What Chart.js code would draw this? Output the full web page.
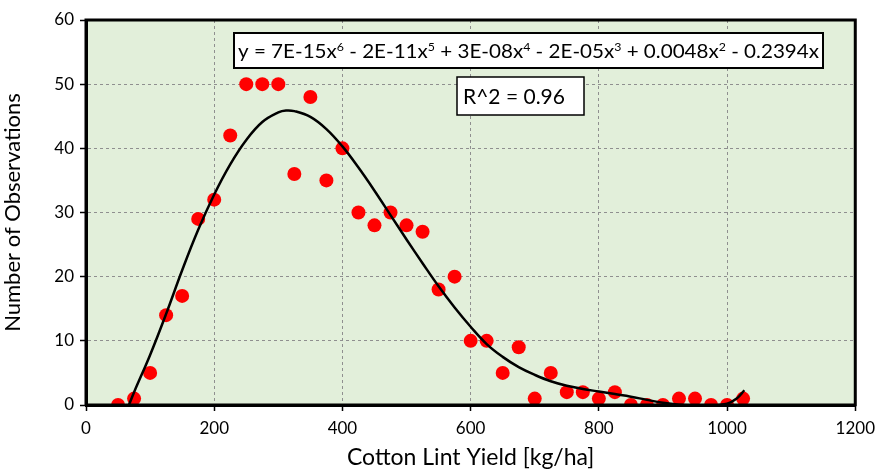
<!DOCTYPE html>
<html>
<head>
<meta charset="utf-8">
<script src="https://cdn.jsdelivr.net/npm/chart.js@4.4.1/dist/chart.umd.min.js"></script>
<style>
html,body{margin:0;padding:0;background:#fff;}
#wrap{width:882px;height:471px;position:relative;}
</style>
</head>
<body>
<div id="wrap"><canvas id="c" width="882" height="471"></canvas></div>
<script>
// Observed data
const yieldX = [50,75,100,125,150,175,200,225,250,275,300,325,350,375,400,425,450,475,500,525,550,575,600,625,650,675,700,725,750,775,800,825,850,875,900,925,950,975,1000,1025];
const observations = [0,1,5,14,17,29,32,42,50,50,50,36,48,35,40,30,28,30,28,27,18,20,10,10,5,9,1,5,2,2,1,2,0,0,0,1,1,0,0,1];

// Fitted trend line
const fitX = [67,75,100,125,150,175,200,225,250,275,300,312,325,350,375,400,425,450,475,500,525,550,575,600,625,650,675,700,725,750,775,800,825,850,875,900,925,950,975,1000,1015,1027];
const fitY = [0,2.0,7.8,14.2,21.0,27.3,32.8,37.5,41.3,44.1,45.6,45.9,45.8,44.9,43.0,40.3,37.0,33.4,29.6,25.8,22.1,18.5,15.2,12.2,9.5,7.5,5.9,4.7,3.7,3.0,2.5,2.1,1.7,1.3,0.8,0.35,0.05,-0.1,-0.1,0.2,1.0,2.3];

// Axis ticks
const xTicks = [0,200,400,600,800,1000,1200];
const yTicks = [0,10,20,30,40,50,60];

const eqParts = [["y = 7E-15x",false],["6",true],[" - 2E-11x",false],["5",true],[" + 3E-08x",false],["4",true],[" - 2E-05x",false],["3",true],[" + 0.0048x",false],["2",true],[" - 0.2394x",false]];
const r2Text = "R^2 = 0.96";

const FONT = "Lato, 'Open Sans', sans-serif";

const bgPlugin = {
  id: 'bg',
  beforeDraw(chart) {
    const a = chart.chartArea, ctx = chart.ctx;
    ctx.save();
    ctx.fillStyle = '#e2efda';
    ctx.fillRect(a.left, a.top, a.right - a.left, a.bottom - a.top);
    ctx.restore();
  },
  afterDraw(chart) {
    const a = chart.chartArea, ctx = chart.ctx;
    ctx.save();
    ctx.setLineDash([]);
    ctx.strokeStyle = '#000';
    ctx.lineWidth = 3;
    ctx.beginPath();
    ctx.moveTo(a.left, a.bottom); ctx.lineTo(a.left, a.top); ctx.lineTo(a.right, a.top); ctx.lineTo(a.right, a.bottom); ctx.lineTo(a.left, a.bottom);
    ctx.stroke();

    // Equation box
    const bx = 234, by = 33, bw = 589, bh = 35;
    ctx.fillStyle = '#fff';
    ctx.fillRect(bx, by, bw, bh);
    ctx.lineWidth = 2;
    ctx.strokeRect(bx, by, bw, bh);
    const fs = 20, ss = 12;
    let total = 0;
    eqParts.forEach(p => { ctx.font = (p[1] ? ss : fs) + 'px ' + FONT; total += ctx.measureText(p[0]).width; });
    const sc = (bw - 8) / total;
    ctx.save();
    ctx.translate(bx + 4, 0);
    ctx.scale(sc, 1);
    let cx = 0;
    ctx.fillStyle = '#000';
    ctx.textBaseline = 'alphabetic';
    eqParts.forEach(p => {
      ctx.font = (p[1] ? ss : fs) + 'px ' + FONT;
      ctx.fillText(p[0], cx, p[1] ? by + 18 : by + 25);
      cx += ctx.measureText(p[0]).width;
    });
    ctx.restore();

    // R^2 box
    const rx = 457, ry = 77, rw = 127, rh = 38;
    ctx.fillStyle = '#fff';
    ctx.fillRect(rx, ry, rw, rh);
    ctx.strokeStyle = '#000';
    ctx.lineWidth = 1.5;
    ctx.strokeRect(rx, ry, rw, rh);
    ctx.fillStyle = '#000';
    ctx.font = '21px ' + FONT;
    ctx.textBaseline = 'middle';
    ctx.fillText(r2Text, rx + 6, ry + rh / 2 + 1);
    ctx.restore();
  }
};

new Chart(document.getElementById('c'), {
  type: 'scatter',
  data: {
    datasets: [
      {
        type: 'line',
        label: 'Fit',
        data: fitX.map((v, i) => ({x: v, y: fitY[i]})),
        borderColor: '#000',
        borderWidth: 2.5,
        pointRadius: 0,
        fill: false,
        tension: 0.4,
        order: 0
      },
      {
        label: 'Observations',
        data: yieldX.map((v, i) => ({x: v, y: observations[i]})),
        backgroundColor: '#ff0000',
        borderWidth: 0,
        pointRadius: 7,
        order: 1
      }
    ]
  },
  options: {
    responsive: false,
    animation: false,
    devicePixelRatio: 1,
    layout: {padding: {top: 20, right: 24, left: 0, bottom: 0}},
    plugins: {legend: {display: false}, tooltip: {enabled: false}},
    scales: {
      x: {
        type: 'linear', min: 0, max: 1200,
        afterBuildTicks(s) { s.ticks = xTicks.map(v => ({value: v})); },
        afterFit(s) { s.height = 66; },
        ticks: {color: '#000', font: {size: 17, family: FONT}, padding: 7, maxRotation: 0, callback: v => String(v)},
        grid: {color: '#8f8f8f', lineWidth: 1, tickColor: '#000', tickLength: 6, tickBorderDash: [], tickWidth: 1.5},
        border: {color: '#000', width: 3, dash: [3, 3]},
        title: {display: true, text: 'Cotton Lint Yield [kg/ha]', color: '#000', font: {size: 23, family: FONT}, padding: {top: 0, bottom: 0}}
      },
      y: {
        type: 'linear', min: 0, max: 60,
        afterBuildTicks(s) { s.ticks = yTicks.map(v => ({value: v})); },
        afterFit(s) { s.width = 86; },
        ticks: {color: '#000', font: {size: 17, family: FONT}, padding: 6, callback: v => String(v)},
        grid: {color: '#8f8f8f', lineWidth: 1, tickColor: '#000', tickLength: 6, tickBorderDash: [], tickWidth: 1.5},
        border: {color: '#000', width: 3, dash: [3, 3]},
        title: {display: true, text: 'Number of Observations', color: '#000', font: {size: 22, family: FONT}, padding: {top: 0, bottom: 0}}
      }
    }
  },
  plugins: [bgPlugin]
});
</script>
</body>
</html>
